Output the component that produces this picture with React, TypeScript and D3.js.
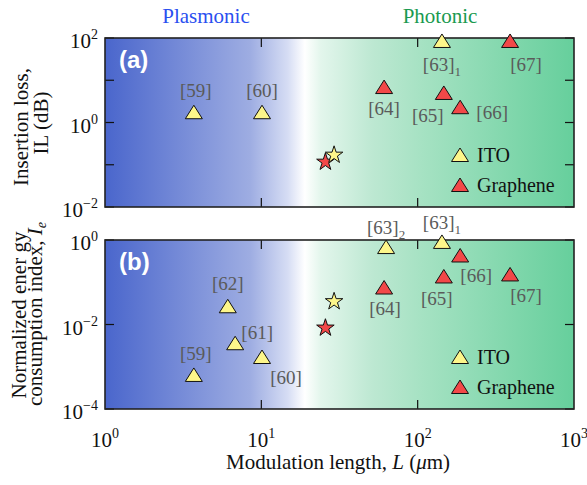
import React, { useEffect, useRef } from 'react';
import * as d3 from 'd3';

// Panel (a): insertion loss (dB) vs modulation length (um)
const ilItoLength = [3.7, 10.1, 143];
const ilItoValue = [1.75, 1.75, 85];
const ilItoRef = ['[59]', '[60]', '[63]_1'];
const ilGrLength = [61, 147, 187, 390];
const ilGrValue = [6.9, 5.0, 2.3, 85];
const ilGrRef = ['[64]', '[65]', '[66]', '[67]'];
const ilStarIto = [29.2, 0.17];
const ilStarGr = [25.7, 0.116];

// Panel (b): normalized energy consumption index
const ieItoLength = [3.7, 6.1, 6.8, 10.1, 62.8, 143];
const ieItoValue = [6.4e-4, 0.027, 3.6e-3, 1.7e-3, 0.68, 0.9];
const ieItoRef = ['[59]', '[62]', '[61]', '[60]', '[63]_2', '[63]_1'];
const ieGrLength = [61, 147, 187, 390];
const ieGrValue = [0.075, 0.137, 0.43, 0.153];
const ieGrRef = ['[64]', '[65]', '[66]', '[67]'];
const ieStarIto = [29.2, 0.035];
const ieStarGr = [25.7, 0.0083];

const xTicks = [1, 10, 100, 1000];
const xTickExp = ['0', '1', '2', '3'];
const aTickLabels = [[100, '2'], [1, '0'], [0.01, '\u22122']];
const bTickLabels = [[1, '0'], [0.01, '\u22122'], [1e-4, '\u22124']];

// label offsets (text centre / baseline relative to marker)
const labelOffA = { '[59]': [2, -15], '[60]': [0, -15], '[63]_1': [0, 30], '[64]': [0, 28], '[65]': [-16, 29], '[66]': [32, 12], '[67]': [16, 30] };
const labelOffB = { '[59]': [2, -15], '[62]': [0, -16], '[61]': [22, -4], '[60]': [24, 27], '[63]_2': [0, -13], '[63]_1': [0, -13], '[64]': [1, 27], '[65]': [-7, 29], '[66]': [16, 27], '[67]': [16, 28] };

const SERIF = 'Liberation Serif, DejaVu Serif, serif';
const SANS = 'Liberation Sans, DejaVu Sans, sans-serif';
const YELLOW = '#fdf68a';
const RED = '#f24848';

const App = () => {
    const ref = useRef(null);

    useEffect(() => {
        const svg = d3.select(ref.current);
        svg.selectAll('*').remove();

        const x = d3.scaleLog().domain([1, 1000]).range([105, 574]);
        const yA = d3.scaleLog().domain([0.01, 100]).range([207, 38]);
        const yB = d3.scaleLog().domain([1e-4, 1]).range([409, 240]);

        const defs = svg.append('defs');
        const grad = defs.append('linearGradient').attr('id', 'bg')
            .attr('x1', '0').attr('x2', '1').attr('y1', '0').attr('y2', '0');
        [[0, '#4a66cc'], [0.31, '#9eade2'], [0.39, '#d6ddf4'], [0.426, '#ffffff'],
         [0.46, '#e3f6ec'], [0.57, '#bde8d2'], [0.675, '#a6e2c3'], [1, '#66cf9c']]
            .forEach(([o, c]) => grad.append('stop').attr('offset', o).attr('stop-color', c));

        const tri = (cx, cy) => `M${cx},${cy - 7}L${cx + 8.5},${cy + 6.5}L${cx - 8.5},${cy + 6.5}Z`;
        const star = d3.symbol(d3.symbolStar, 95);

        const drawLabel = (g, txt, px, py, off) => {
            const [base, sub] = txt.split('_');
            const t = g.append('text')
                .attr('x', px + off[0]).attr('y', py + off[1])
                .attr('text-anchor', 'middle')
                .style('font-family', SERIF).attr('font-size', 19).attr('fill', '#5a5a5a')
                .text(base);
            if (sub) {
                t.append('tspan').attr('dy', 5).attr('font-size', 13).text(sub);
            }
        };

        const panel = (y, top, bottom, tickVals, tickLabels, tag, data, offs) => {
            const g = svg.append('g');
            g.append('rect').attr('x', x(1)).attr('y', top)
                .attr('width', x(1000) - x(1)).attr('height', bottom - top)
                .attr('fill', 'url(#bg)');

            // ticks (inward, all sides)
            tickVals.forEach(v => {
                g.append('line').attr('x1', x(1)).attr('x2', x(1) + 9).attr('y1', y(v)).attr('y2', y(v)).attr('stroke', '#111').attr('stroke-width', 1.2);
                g.append('line').attr('x1', x(1000)).attr('x2', x(1000) - 9).attr('y1', y(v)).attr('y2', y(v)).attr('stroke', '#111').attr('stroke-width', 1.2);
            });
            [10, 100].forEach(v => {
                g.append('line').attr('x1', x(v)).attr('x2', x(v)).attr('y1', top).attr('y2', top + 9).attr('stroke', '#111').attr('stroke-width', 1.2);
                g.append('line').attr('x1', x(v)).attr('x2', x(v)).attr('y1', bottom).attr('y2', bottom - 9).attr('stroke', '#111').attr('stroke-width', 1.2);
            });

            g.append('rect').attr('x', x(1)).attr('y', top)
                .attr('width', x(1000) - x(1)).attr('height', bottom - top)
                .attr('fill', 'none').attr('stroke', '#222').attr('stroke-width', 1.6);

            tickLabels.forEach(([v, e]) => {
                const t = g.append('text').attr('x', 98).attr('y', y(v) + 10)
                    .attr('text-anchor', 'end').style('font-family', SERIF).attr('font-size', 21).attr('fill', '#111')
                    .text('10');
                t.append('tspan').attr('dy', -9).attr('font-size', 14).text(e);
            });

            g.append('text').attr('x', 119).attr('y', top + 30)
                .style('font-family', SANS).attr('font-weight', 'bold')
                .attr('font-size', 24).attr('fill', '#ffffff').text(tag);

            const [itoL, itoV, itoR, grL, grV, grR, sIto, sGr] = data;

            // stars
            g.append('path').attr('d', star()).attr('transform', `translate(${x(sGr[0])},${y(sGr[1])})`)
                .attr('fill', RED).attr('stroke', '#111').attr('stroke-width', 1);
            g.append('path').attr('d', star()).attr('transform', `translate(${x(sIto[0])},${y(sIto[1])})`)
                .attr('fill', YELLOW).attr('stroke', '#111').attr('stroke-width', 1);

            itoL.forEach((L, i) => {
                g.append('path').attr('d', tri(x(L), y(itoV[i]))).attr('fill', YELLOW).attr('stroke', '#111').attr('stroke-width', 1);
                drawLabel(g, itoR[i], x(L), y(itoV[i]), offs[itoR[i]]);
            });
            grL.forEach((L, i) => {
                g.append('path').attr('d', tri(x(L), y(grV[i]))).attr('fill', RED).attr('stroke', '#111').attr('stroke-width', 1);
                drawLabel(g, grR[i], x(L), y(grV[i]), offs[grR[i]]);
            });

            // legend
            const ly = bottom - 52;
            [['ITO', YELLOW], ['Graphene', RED]].forEach(([name, c], i) => {
                g.append('path').attr('d', tri(460, ly + i * 30)).attr('fill', c).attr('stroke', '#111').attr('stroke-width', 1);
                g.append('text').attr('x', 477).attr('y', ly + i * 30 + 7)
                    .style('font-family', SERIF).attr('font-size', 20).attr('fill', '#111').text(name);
            });
        };

        panel(yA, 38, 207, [0.01, 0.1, 1, 10, 100], aTickLabels, '(a)',
            [ilItoLength, ilItoValue, ilItoRef, ilGrLength, ilGrValue, ilGrRef, ilStarIto, ilStarGr], labelOffA);
        panel(yB, 240, 409, [1e-4, 1e-2, 1], bTickLabels, '(b)',
            [ieItoLength, ieItoValue, ieItoRef, ieGrLength, ieGrValue, ieGrRef, ieStarIto, ieStarGr], labelOffB);

        // x tick labels
        xTicks.forEach((v, i) => {
            const t = svg.append('text').attr('x', x(v)).attr('y', 447)
                .attr('text-anchor', 'middle').style('font-family', SERIF).attr('font-size', 21).attr('fill', '#111')
                .text('10');
            t.append('tspan').attr('dy', -9).attr('font-size', 14).text(xTickExp[i]);
        });

        // axis titles
        const xl = svg.append('text').attr('x', 338).attr('y', 469).attr('text-anchor', 'middle')
            .style('font-family', SERIF).attr('font-size', 21).attr('fill', '#111');
        xl.append('tspan').text('Modulation length,  ');
        xl.append('tspan').attr('font-style', 'italic').text('L');
        xl.append('tspan').text(' (');
        xl.append('tspan').attr('font-style', 'italic').text('\u03bc');
        xl.append('tspan').text('m)');

        const rot = (tx, ty, s) => svg.append('text')
            .attr('transform', `translate(${tx},${ty}) rotate(-90)`)
            .attr('text-anchor', 'middle').style('font-family', SERIF).attr('font-size', 21).attr('fill', '#111')
            .text(s);
        rot(28, 127, 'Insertion loss,');
        rot(48, 123, 'IL (dB)');
        rot(26, 315, 'Normalized ener gy');
        const l2 = rot(42, 314, 'consumption index, ');
        l2.append('tspan').attr('font-style', 'italic').text('I');
        l2.append('tspan').attr('font-style', 'italic').attr('font-size', 14).attr('dy', 4).text('e');

        svg.append('text').attr('x', 206).attr('y', 23).attr('text-anchor', 'middle')
            .style('font-family', SERIF).attr('font-size', 21).attr('fill', '#2a4ff0').text('Plasmonic');
        svg.append('text').attr('x', 440).attr('y', 23).attr('text-anchor', 'middle')
            .style('font-family', SERIF).attr('font-size', 21).attr('fill', '#1a9a50').text('Photonic');
    }, []);

    return (
        <svg ref={ref} width={587} height={485} style={{ display: 'block', position: 'absolute', left: 0, top: 0, background: '#fff' }} />
    );
};

export default App;
